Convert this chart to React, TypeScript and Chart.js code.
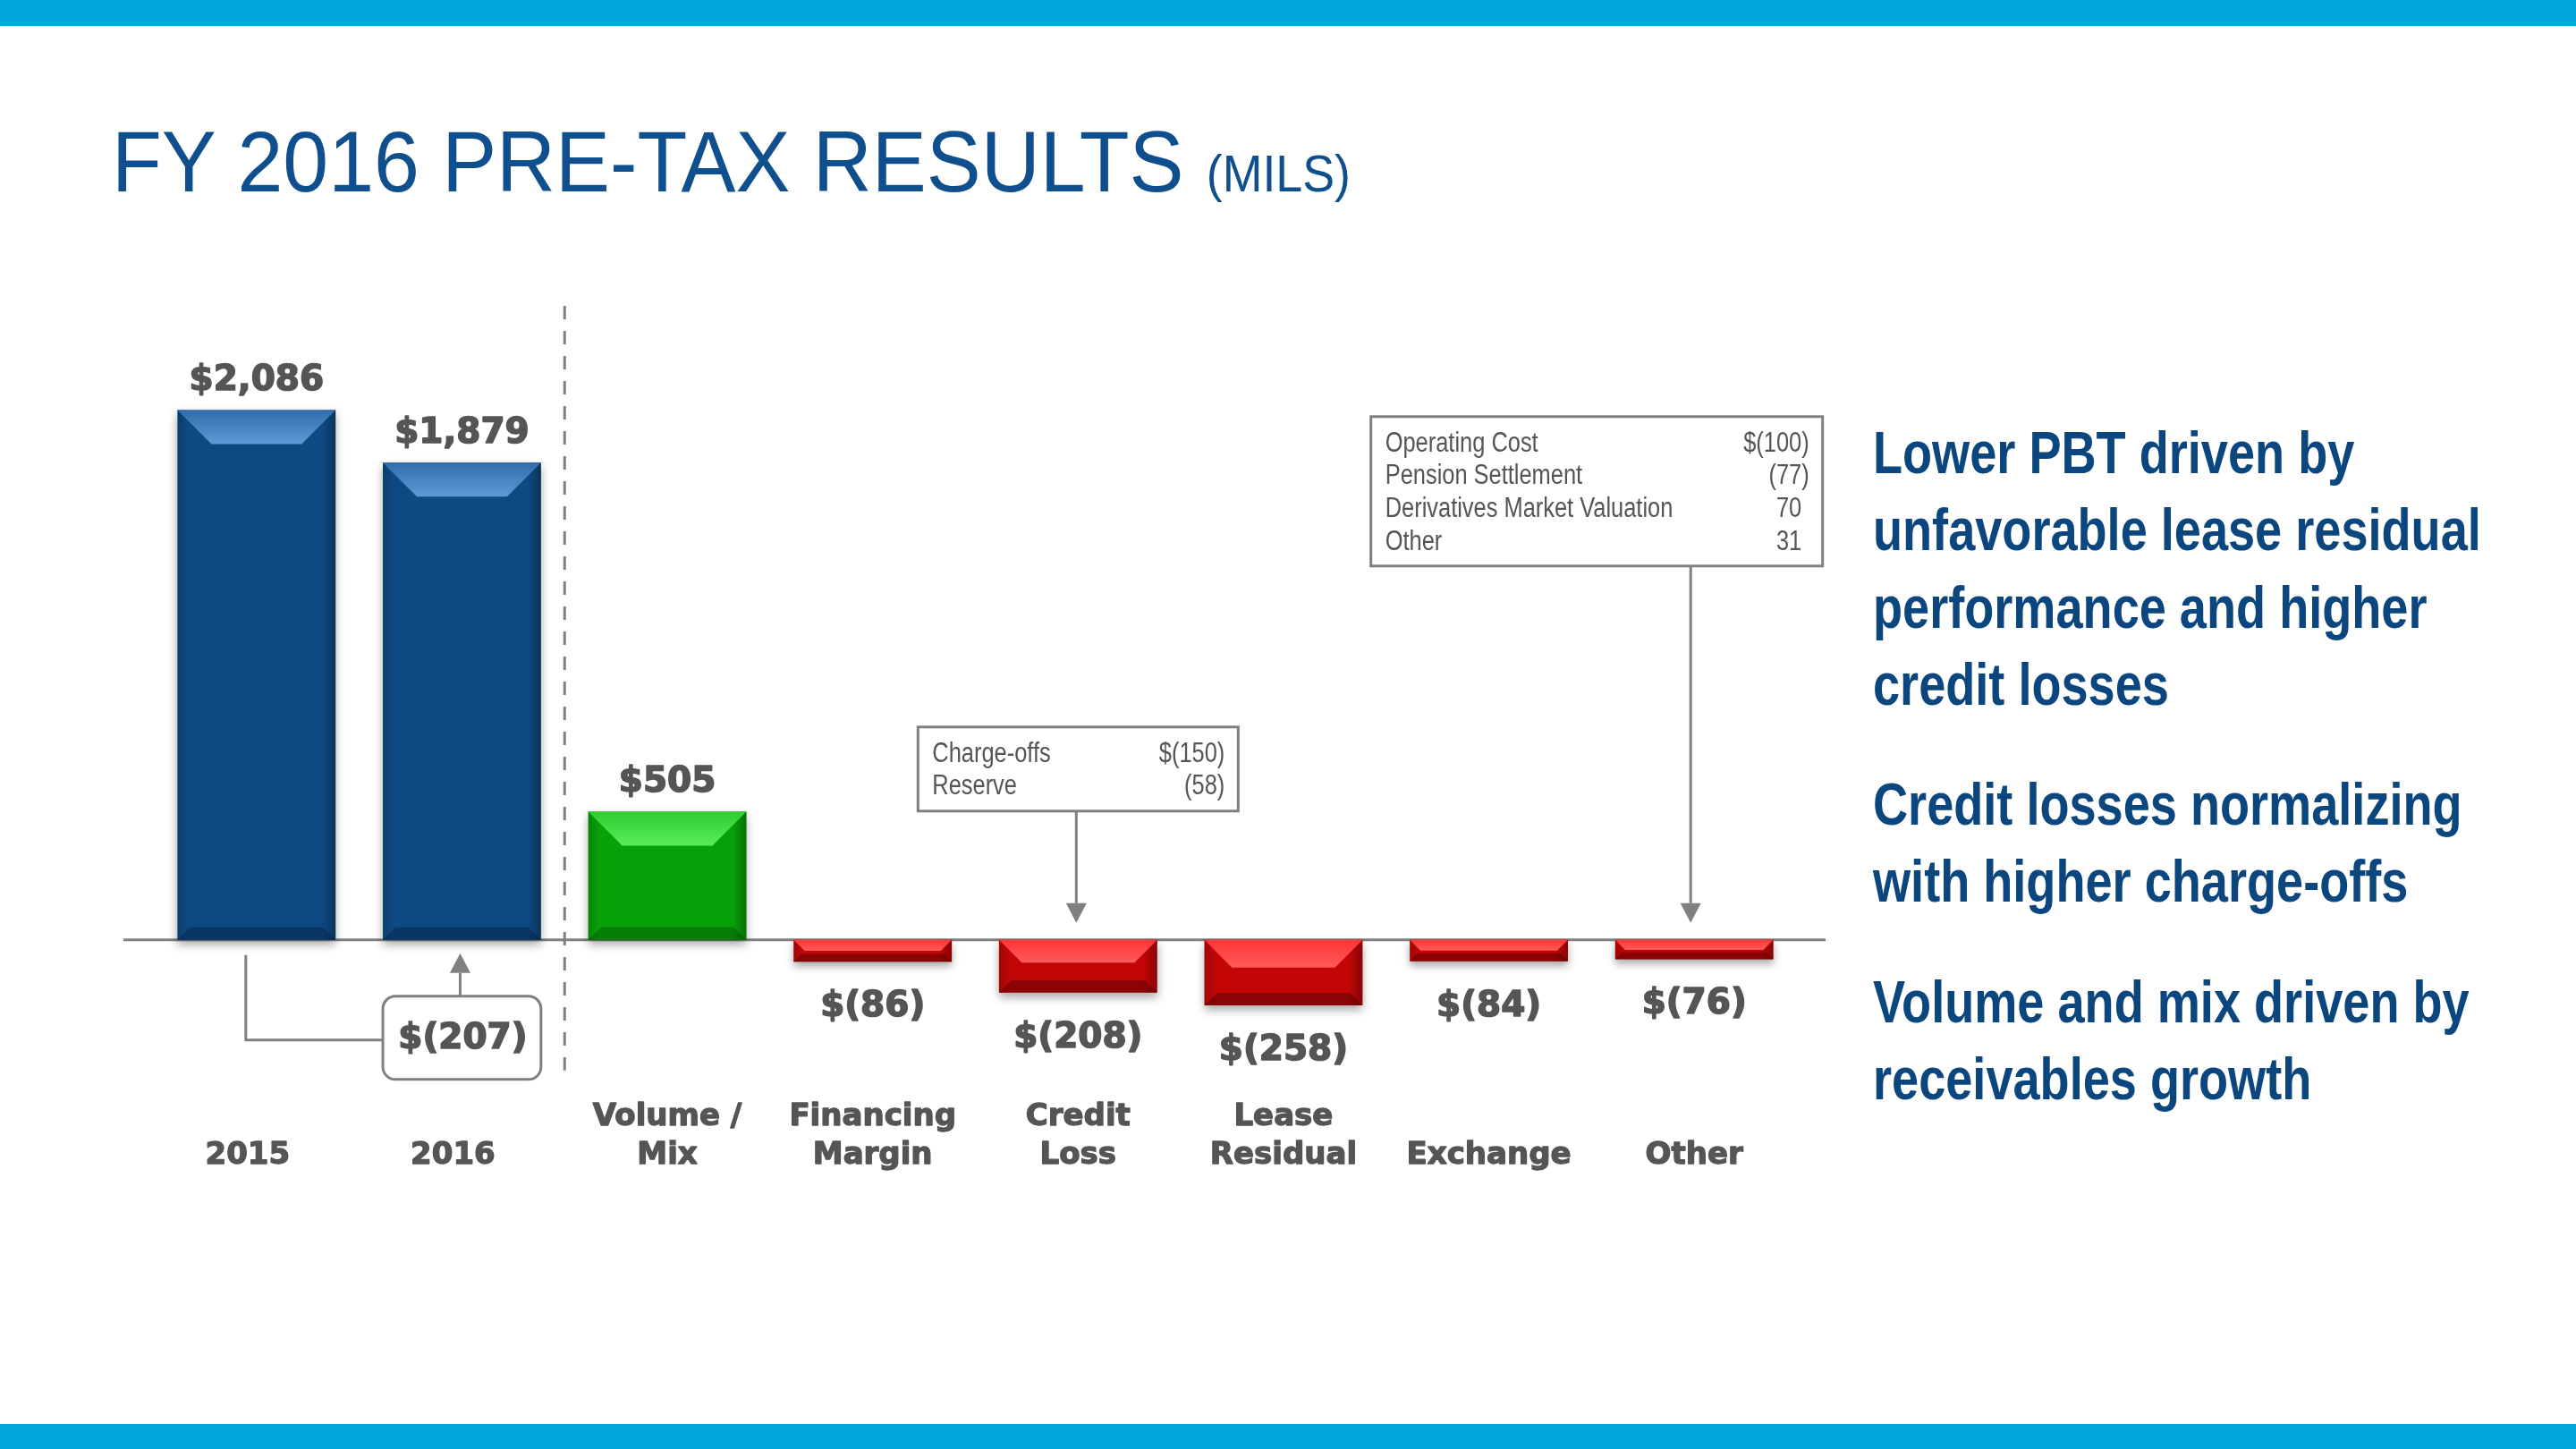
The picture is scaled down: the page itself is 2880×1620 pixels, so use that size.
import { useEffect, useRef } from "react";
import { Chart, registerables } from "chart.js";

Chart.register(...registerables);

// ---------------- data ----------------
const categories = ["2015", "2016", "Volume / Mix", "Financing Margin", "Credit Loss", "Lease Residual", "Exchange", "Other"];
const categoryLines = [["", "2015"], ["", "2016"], ["Volume /", "Mix"], ["Financing", "Margin"], ["Credit", "Loss"], ["Lease", "Residual"], ["", "Exchange"], ["", "Other"]];
const pretaxValues = [2086, 1879, 505, -86, -208, -258, -84, -76];
const valueLabels = ["$2,086", "$1,879", "$505", "$(86)", "$(208)", "$(258)", "$(84)", "$(76)"];
const barTypes = ["total", "total", "increase", "decrease", "decrease", "decrease", "decrease", "decrease"];
const yearChangeLabel = "$(207)";
const creditLossItems = ["Charge-offs", "Reserve"];
const creditLossAmounts = ["$(150)", "(58)"];
const otherItems = ["Operating Cost", "Pension Settlement", "Derivatives Market Valuation", "Other"];
const otherAmounts = ["$(100)", "(77)", "70", "31"];
const yMin = -800;
const yMax = 2200;
const titleText = "FY 2016 PRE-TAX RESULTS";
const titleUnit = "(MILS)";
const bulletBlocks = [
  ["Lower PBT driven by", "unfavorable lease residual", "performance and higher", "credit losses"],
  ["Credit losses normalizing", "with higher charge-offs"],
  ["Volume and mix driven by", "receivables growth"],
];

// ---------------- styles ----------------
const palette: Record<string, any> = {
  total: { base: "#0E4A82", top1: "#2F6CAB", top2: "#5E9BD4", bottom: "rgba(0,20,50,0.35)" },
  increase: { base: "#08A008", top1: "#2FCB2F", top2: "#58EE58", bottom: "rgba(0,50,0,0.30)" },
  decrease: { base: "#C20606", top1: "#FF3535", top2: "#FF5A5A", bottom: "rgba(60,0,0,0.40)" },
};
const GRAY = "#808080";
const TEXT = "#555555";

function hasFont(name: string) {
  try {
    const c = document.createElement("canvas").getContext("2d")!;
    const s = "Derivatives Market 0123 Wg";
    c.font = "40px monospace";
    const a = c.measureText(s).width;
    c.font = `40px "${name}", monospace`;
    const b = c.measureText(s).width;
    return Math.abs(a - b) > 0.5;
  } catch (e) {
    return false;
  }
}

function condText(ctx: any, text: string, x: number, y: number, align: string, size: number, weight: string, narrow: boolean) {
  ctx.textAlign = align;
  ctx.textBaseline = "alphabetic";
  if (narrow) {
    ctx.font = `${weight} ${size}px "Liberation Sans Narrow"`;
    ctx.fillText(text, x, y);
  } else {
    ctx.save();
    ctx.translate(x, y);
    ctx.scale(0.82, 1);
    ctx.font = `${weight} ${size}px "Liberation Sans"`;
    ctx.fillText(text, 0, 0);
    ctx.restore();
  }
}

function condWidth(ctx: any, text: string, size: number, weight: string, narrow: boolean) {
  ctx.font = narrow ? `${weight} ${size}px "Liberation Sans Narrow"` : `${weight} ${size}px "Liberation Sans"`;
  const w = ctx.measureText(text).width;
  return narrow ? w : w * 0.82;
}

function heavyText(ctx: any, text: string, x: number, y: number) {
  ctx.fillText(text, x, y);
  ctx.strokeText(text, x, y);
}

function drawArrow(ctx: any, x: number, yFrom: number, yTo: number) {
  const dir = Math.sign(yTo - yFrom);
  const head = 22;
  const half = 11.5;
  ctx.beginPath();
  ctx.moveTo(x, yFrom);
  ctx.lineTo(x, yTo - dir * head);
  ctx.stroke();
  ctx.beginPath();
  ctx.moveTo(x, yTo);
  ctx.lineTo(x - half, yTo - dir * head);
  ctx.lineTo(x + half, yTo - dir * head);
  ctx.closePath();
  ctx.fill();
}

function poly(ctx: any, pts: number[][]) {
  ctx.beginPath();
  ctx.moveTo(pts[0][0], pts[0][1]);
  for (let i = 1; i < pts.length; i++) ctx.lineTo(pts[i][0], pts[i][1]);
  ctx.closePath();
  ctx.fill();
}

function makePlugin(narrow: boolean) {
  return {
    id: "deco",
    beforeDatasetsDraw(chart: any) {
      const { ctx, chartArea } = chart;
      const xs = chart.scales.x;
      const ys = chart.scales.y;
      const z = ys.getPixelForValue(0);
      const sepX = (xs.getPixelForValue(1) + xs.getPixelForValue(2)) / 2;
      ctx.save();
      ctx.strokeStyle = GRAY;
      ctx.lineWidth = 3;
      ctx.setLineDash([15, 13]);
      ctx.beginPath();
      ctx.moveTo(sepX, 342);
      ctx.lineTo(sepX, z + 146);
      ctx.stroke();
      ctx.setLineDash([]);
      ctx.beginPath();
      ctx.moveTo(chartArea.left - 34, z);
      ctx.lineTo(chartArea.right + 32, z);
      ctx.stroke();
      ctx.restore();
      ctx.save();
      ctx.shadowColor = "rgba(0,0,0,0.35)";
      ctx.shadowBlur = 10;
      ctx.shadowOffsetX = 0;
      ctx.shadowOffsetY = 5;
    },
    afterDatasetsDraw(chart: any) {
      const ctx = chart.ctx;
      ctx.restore();
      const xs = chart.scales.x;
      const ys = chart.scales.y;
      const z = ys.getPixelForValue(0);
      const meta = chart.getDatasetMeta(0);

      // bevels
      meta.data.forEach((el: any, i: number) => {
        const p = el.getProps(["x", "y", "base", "width"], true);
        const left = p.x - p.width / 2;
        const right = p.x + p.width / 2;
        const top = Math.min(p.y, p.base);
        const bottom = Math.max(p.y, p.base);
        const h = bottom - top;
        const pal = palette[barTypes[i]];
        const b = Math.min(38, 0.38 * h + 3);
        const bb = Math.min(14, h * 0.36);
        ctx.save();
        let g = ctx.createLinearGradient(right - 16, 0, right, 0);
        g.addColorStop(0, "rgba(0,0,0,0)");
        g.addColorStop(1, "rgba(0,0,0,0.30)");
        ctx.fillStyle = g;
        ctx.fillRect(right - 16, top, 16, h);
        g = ctx.createLinearGradient(left, 0, left + 12, 0);
        g.addColorStop(0, "rgba(0,0,0,0.18)");
        g.addColorStop(1, "rgba(0,0,0,0)");
        ctx.fillStyle = g;
        ctx.fillRect(left, top, 12, h);
        ctx.fillStyle = pal.bottom;
        poly(ctx, [[left, bottom], [right, bottom], [right - bb, bottom - bb], [left + bb, bottom - bb]]);
        g = ctx.createLinearGradient(0, top, 0, top + b);
        g.addColorStop(0, pal.top1);
        g.addColorStop(1, pal.top2);
        ctx.fillStyle = g;
        poly(ctx, [[left, top], [right, top], [right - b, top + b], [left + b, top + b]]);
        ctx.restore();
      });

      // value labels
      ctx.save();
      ctx.fillStyle = TEXT;
      ctx.strokeStyle = TEXT;
      ctx.lineWidth = 1.6;
      ctx.lineJoin = "round";
      ctx.font = 'bold 39px "DejaVu Sans"';
      ctx.textAlign = "center";
      ctx.textBaseline = "alphabetic";
      meta.data.forEach((el: any, i: number) => {
        const p = el.getProps(["x", "y", "base"], true);
        if (pretaxValues[i] >= 0) heavyText(ctx, valueLabels[i], p.x, Math.min(p.y, p.base) - 22);
        else heavyText(ctx, valueLabels[i], p.x, Math.max(p.y, p.base) + 61);
      });
      // category labels
      ctx.font = 'bold 34px "DejaVu Sans"';
      ctx.lineWidth = 1.3;
      categoryLines.forEach((lines, i) => {
        const cx = xs.getPixelForValue(i) + (barTypes[i] === "total" ? -10 : 0);
        if (lines[0]) heavyText(ctx, lines[0], cx, z + 207);
        heavyText(ctx, lines[1], cx, z + 250);
      });
      ctx.restore();

      // 2015 -> 2016 change callout
      const c0 = xs.getPixelForValue(0);
      const c1 = xs.getPixelForValue(1);
      const bw = meta.data[1].width;
      const bx = c1 - bw / 2;
      const by = z + 63;
      const bh = 93;
      ctx.save();
      ctx.strokeStyle = GRAY;
      ctx.fillStyle = GRAY;
      ctx.lineWidth = 3;
      ctx.beginPath();
      ctx.roundRect(bx, by, bw, bh, 14);
      ctx.stroke();
      ctx.beginPath();
      ctx.moveTo(c0 - 12, z + 17);
      ctx.lineTo(c0 - 12, z + 112);
      ctx.lineTo(bx, z + 112);
      ctx.stroke();
      drawArrow(ctx, c1 - 2, by, z + 15);
      ctx.fillStyle = TEXT;
      ctx.strokeStyle = TEXT;
      ctx.lineWidth = 1.6;
      ctx.font = 'bold 39px "DejaVu Sans"';
      ctx.textAlign = "center";
      ctx.textBaseline = "middle";
      heavyText(ctx, yearChangeLabel, c1 + 1, by + bh / 2 + 2);
      ctx.restore();

      // detail boxes
      const detailBox = (left: number, width: number, top: number, height: number, arrowX: number, items: string[], amounts: string[]) => {
        ctx.save();
        ctx.fillStyle = "#ffffff";
        ctx.fillRect(left, top, width, height);
        ctx.strokeStyle = GRAY;
        ctx.fillStyle = GRAY;
        ctx.lineWidth = 3;
        ctx.strokeRect(left, top, width, height);
        drawArrow(ctx, arrowX, top + height, z - 19);
        ctx.fillStyle = "#555555";
        const paren = condWidth(ctx, ")", 31, "normal", narrow);
        items.forEach((t, k) => {
          const yb = top + 39 + k * 36.6;
          condText(ctx, t, left + 16, yb, "left", 31, "normal", narrow);
          const a = amounts[k];
          const rx = left + width - 15 - (a.endsWith(")") ? 0 : paren);
          condText(ctx, a, rx, yb, "right", 31, "normal", narrow);
        });
        ctx.restore();
      };
      const cc = xs.getPixelForValue(4);
      detailBox(cc - 179, 358, z - 238, 94, cc - 2, creditLossItems, creditLossAmounts);
      const co = xs.getPixelForValue(7);
      detailBox(co - 361.5, 505, z - 585, 167, co - 4, otherItems, otherAmounts);
    },
  };
}

export default function App() {
  const canvasRef = useRef<HTMLCanvasElement>(null);
  const narrow = hasFont("Liberation Sans Narrow");

  useEffect(() => {
    document.body.style.margin = "0";
    const canvas = canvasRef.current!;
    const chart = new Chart(canvas, {
      type: "bar",
      data: {
        labels: categories,
        datasets: [
          {
            data: pretaxValues,
            backgroundColor: barTypes.map((t) => palette[t].base),
            borderWidth: 0,
            categoryPercentage: 1,
            barPercentage: 0.77,
          },
        ],
      },
      options: {
        responsive: false,
        maintainAspectRatio: false,
        animation: false,
        layout: { padding: { left: 172, right: 871, top: 426, bottom: 342 } },
        scales: {
          x: { display: false },
          y: { display: false, min: yMin, max: yMax },
        },
        plugins: { legend: { display: false }, tooltip: { enabled: false } },
      },
      plugins: [makePlugin(narrow)],
    } as any);
    return () => chart.destroy();
  }, []);

  const bulletFont = narrow ? '"Liberation Sans Narrow", "Liberation Sans", sans-serif' : '"Liberation Sans", sans-serif';
  const blockTops = [463, 856, 1077];

  return (
    <div style={{ position: "relative", width: 2880, height: 1620, overflow: "hidden", background: "#ffffff" }}>
      <div style={{ position: "absolute", left: 0, top: 0, width: 2880, height: 29, background: "#00A8DF" }} />
      <div style={{ position: "absolute", left: 0, top: 1592, width: 2880, height: 28, background: "#00A8DF" }} />
      <canvas ref={canvasRef} width={2880} height={1620} style={{ position: "absolute", left: 0, top: 0 }} />
      <div
        style={{
          position: "absolute",
          left: 125,
          top: 132,
          fontFamily: '"Liberation Sans", Arial, sans-serif',
          fontSize: 97,
          lineHeight: "97px",
          color: "#0F4F8E",
          whiteSpace: "nowrap",
          transform: "scaleX(0.942)",
          transformOrigin: "0 0",
        }}
      >
        {titleText} <span style={{ fontSize: 57, marginLeft: 0 }}>{titleUnit}</span>
      </div>
      {bulletBlocks.map((lines, bi) => (
        <div
          key={bi}
          style={{
            position: "absolute",
            left: 2094,
            top: blockTops[bi],
            fontFamily: bulletFont,
            fontWeight: "bold",
            fontSize: 66,
            lineHeight: "86.3px",
            color: "#0B467F",
            whiteSpace: "nowrap",
            transform: narrow ? "none" : "scaleX(0.82)",
            transformOrigin: "0 0",
          }}
        >
          {lines.map((l, li) => (
            <div key={li}>{l}</div>
          ))}
        </div>
      ))}
    </div>
  );
}
